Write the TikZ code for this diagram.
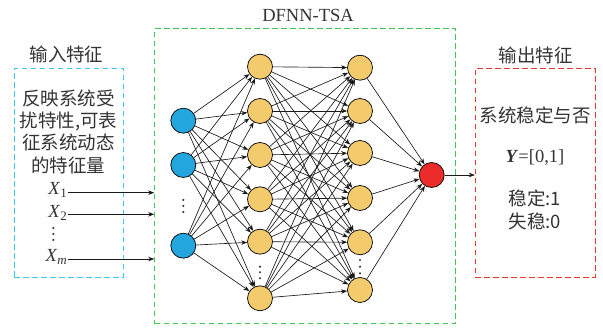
\documentclass[tikz,border=0pt]{standalone}
\usepackage{fontspec}
\setmainfont{Liberation Serif}
\newfontfamily\cjk{Noto Sans CJK SC}
\usetikzlibrary{arrows.meta}
\definecolor{inblue}{HTML}{22A6DD}
\definecolor{hidyel}{HTML}{F4CB6C}
\definecolor{outred}{HTML}{EC2B2B}
\definecolor{boxcyan}{HTML}{3CC6F0}
\definecolor{boxgreen}{HTML}{44C455}
\definecolor{boxred}{HTML}{EE3535}
\definecolor{txtgray}{HTML}{333333}
\newcommand{\xsub}[1]{\textit{X}\raisebox{-0.35ex}{\fontsize{13}{13}\selectfont #1}}
\begin{document}
\begin{tikzpicture}[x=1pt,y=-1pt,
  neuron/.style={circle,draw=black,line width=0.7pt,minimum size=25pt,inner sep=0pt},
  conn/.style={-{Stealth[length=6pt,width=4.5pt]},line width=0.65pt,draw=black!90},
  lbl/.style={text=txtgray,font=\fontsize{18.5}{22.2}\selectfont,inner sep=0pt,align=center},
  dashbox/.style={dash pattern=on 5.5pt off 3.5pt,line width=1pt,inner sep=0pt},
  dotc/.style={circle,fill=black!80,inner sep=0pt,minimum size=2.4pt}]
\useasboundingbox (0,0) rectangle (603,328);

% boxes
\node[dashbox,draw=boxgreen,minimum width=301pt,minimum height=295pt] (dfnn) at (305.2,176.5) {};
\node[dashbox,draw=boxcyan,minimum width=109pt,minimum height=209pt] (inbox) at (68.8,172.8) {};
\node[dashbox,draw=boxred,minimum width=119.7pt,minimum height=209pt] (outbox) at (535.2,172.8) {};

% titles
\node[lbl] (ttl) at (308,15) {DFNN-TSA};
\node[lbl] (inttl) at (66.5,54) {\cjk 输入特征};
\node[lbl] (outttl) at (535.8,55) {\cjk 输出特征};

% input description
\node[lbl] (desc) at (68.5,131.7) {\cjk 反映系统受\\\cjk 扰特性,可表\\\cjk 征系统动态\\\cjk 的特征量};

% X labels
\node[lbl,anchor=east] (xa) at (67,190) {\xsub{1}};
\node[lbl,anchor=east] (xb) at (67,212.5) {\xsub{2}};
\node[lbl,anchor=east] (xc) at (67,256.5) {\xsub{\textit{m}}};
\node[dotc] (xd1) at (53.3,228) {};
\node[dotc] (xd2) at (53.3,234) {};
\node[dotc] (xd3) at (53.3,240) {};

\coordinate (xas) at (68,192.7);
\coordinate (xbs) at (68,214.3);
\coordinate (xcs) at (68,259);
\draw[conn] (xas) -- (xas -| dfnn.west);
\draw[conn] (xbs) -- (xbs -| dfnn.west);
\draw[conn] (xcs) -- (xcs -| dfnn.west);

% output description
\node[lbl] (o1) at (535,115) {\cjk 系统稳定与否};
\node[lbl] (o2) at (535,157.7) {\textbf{\textit{Y}}=[0,1]};
\node[lbl] (o3) at (535,210) {\cjk 稳定:1\\\cjk 失稳:0};

% neurons
\node[neuron,fill=inblue] (i1) at (183.3,120.7) {};
\node[neuron,fill=inblue] (i2) at (183.3,165) {};
\node[neuron,fill=inblue] (i3) at (183.3,245.7) {};
\foreach \n/\y in {1/66.7,2/111,3/155,4/199.3,5/241.7,6/298.3}
  \node[neuron,fill=hidyel] (h\n) at (260,\y) {};
\foreach \n/\y in {1/67.7,2/111,3/153,4/198,5/242.3,6/290}
  \node[neuron,fill=hidyel] (g\n) at (360,\y) {};
\node[neuron,fill=outred] (o) at (431.7,175) {};

% ellipsis dots
\foreach \y [count=\k] in {200,206,212} \node[dotc] (id\k) at (183.3,\y) {};
\foreach \y [count=\k] in {266.7,272.3,278.3} \node[dotc] (hd\k) at (260,\y) {};
\foreach \y [count=\k] in {260,266.7,273.3} \node[dotc] (gd\k) at (360,\y) {};

% connections
\foreach \a in {1,2,3}
  \foreach \b in {1,...,6}
    \draw[conn] (i\a) -- (h\b);
\foreach \a in {1,...,6}
  \foreach \b in {1,...,6}
    \draw[conn] (h\a) -- (g\b);
\foreach \a in {1,...,6}
  \draw[conn] (g\a) -- (o);
\draw[conn] (o) -- (o -| outbox.west);
\end{tikzpicture}
\end{document}
